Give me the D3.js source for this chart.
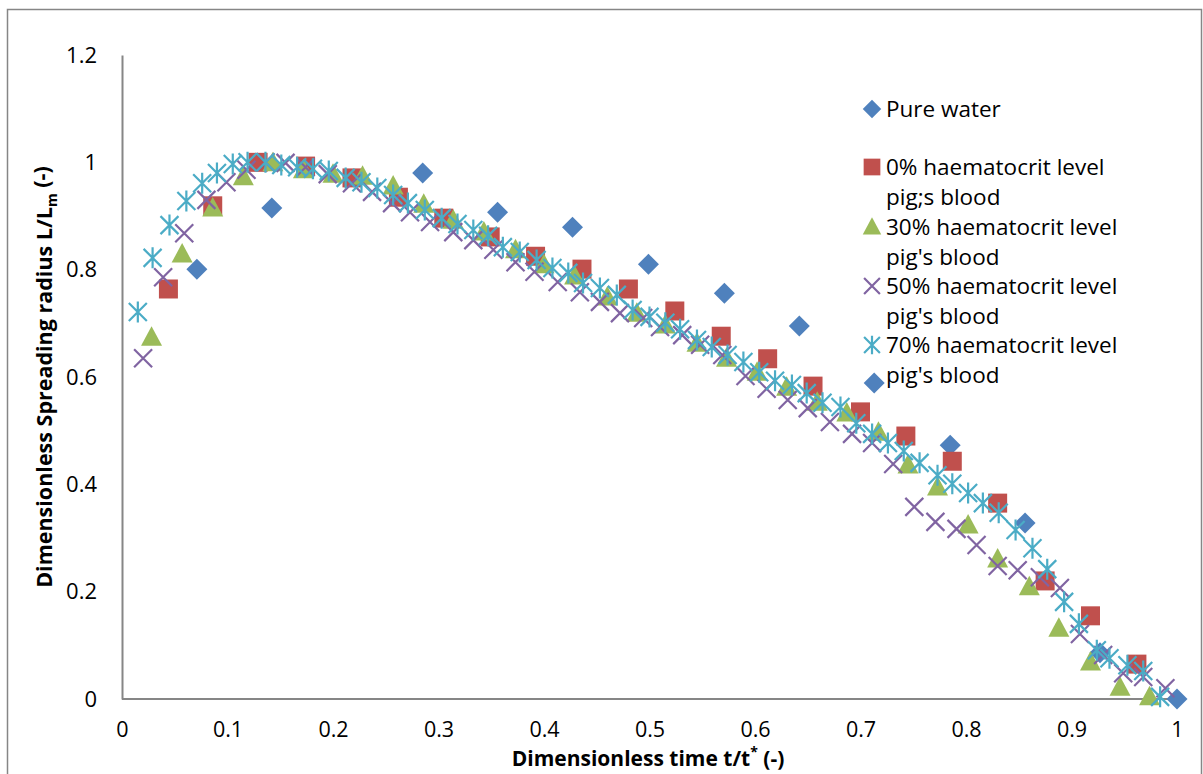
<!DOCTYPE html>
<html><head><meta charset="utf-8">
<script src="https://cdn.jsdelivr.net/npm/d3@7"></script>
<style>body{margin:0;background:#fff}svg{display:block}text{font-family:"Open Sans",sans-serif}</style>
</head><body>
<svg id="c" width="1203" height="774"></svg>
<script>
// ---- data ----
const waterX = [0.071,0.142,0.285,0.356,0.427,0.499,0.571,0.642,0.713,0.785,0.856,0.927,1.0];
const waterY = [0.801,0.915,0.980,0.907,0.879,0.810,0.756,0.695,0.589,0.473,0.328,0.086,0.0];

const h0X = [0.044,0.086,0.129,0.174,0.218,0.262,0.305,0.349,0.392,0.436,0.480,0.524,0.568,0.612,0.655,0.700,0.743,0.787,0.830,0.875,0.918,0.962];
const h0Y = [0.764,0.919,1.000,0.993,0.971,0.935,0.896,0.861,0.825,0.801,0.764,0.723,0.676,0.634,0.583,0.535,0.490,0.443,0.365,0.220,0.155,0.065];

const h30X = [0.028,0.057,0.086,0.115,0.143,0.172,0.200,0.228,0.257,0.286,0.314,0.343,0.373,0.400,0.429,0.460,0.488,0.515,0.545,0.573,0.602,0.630,0.659,0.687,0.717,0.745,0.773,0.802,0.830,0.860,0.888,0.918,0.946,0.974];
const h30Y = [0.674,0.829,0.915,0.973,0.999,0.986,0.978,0.974,0.956,0.922,0.892,0.870,0.837,0.809,0.788,0.749,0.719,0.697,0.663,0.635,0.609,0.581,0.553,0.533,0.497,0.436,0.395,0.324,0.261,0.209,0.132,0.069,0.022,0.004];

const h50X = [0.020,0.039,0.059,0.080,0.099,0.118,0.136,0.155,0.174,0.195,0.218,0.237,0.256,0.273,0.292,0.314,0.333,0.352,0.373,0.391,0.413,0.434,0.453,0.472,0.494,0.510,0.531,0.548,0.569,0.591,0.611,0.631,0.650,0.671,0.692,0.711,0.731,0.751,0.771,0.791,0.810,0.830,0.849,0.870,0.889,0.908,0.930,0.949,0.968,0.989];
const h50Y = [0.635,0.786,0.868,0.930,0.963,0.986,1.000,0.999,0.991,0.978,0.961,0.945,0.924,0.907,0.889,0.870,0.855,0.837,0.814,0.796,0.777,0.758,0.740,0.719,0.710,0.693,0.678,0.660,0.641,0.602,0.578,0.557,0.542,0.516,0.494,0.477,0.438,0.358,0.330,0.317,0.287,0.248,0.240,0.227,0.207,0.121,0.082,0.048,0.041,0.020];

const h70X = [0.015,0.029,0.045,0.061,0.076,0.090,0.105,0.119,0.136,0.151,0.166,0.181,0.196,0.212,0.227,0.242,0.257,0.271,0.287,0.303,0.318,0.333,0.347,0.361,0.377,0.393,0.408,0.423,0.437,0.453,0.469,0.484,0.500,0.515,0.529,0.545,0.559,0.574,0.589,0.604,0.619,0.635,0.649,0.664,0.681,0.696,0.711,0.726,0.741,0.756,0.773,0.787,0.802,0.816,0.831,0.847,0.863,0.877,0.893,0.907,0.924,0.936,0.953,0.968,0.984];
const h70Y = [0.721,0.822,0.883,0.928,0.961,0.980,0.997,1.000,1.000,0.995,0.991,0.988,0.984,0.971,0.963,0.952,0.939,0.924,0.911,0.896,0.885,0.874,0.863,0.842,0.833,0.818,0.803,0.794,0.775,0.766,0.753,0.725,0.712,0.701,0.689,0.669,0.656,0.641,0.628,0.609,0.593,0.585,0.570,0.552,0.544,0.514,0.494,0.477,0.462,0.440,0.417,0.401,0.384,0.365,0.347,0.315,0.281,0.242,0.181,0.140,0.091,0.076,0.063,0.052,0.004];

const xTicks = [0,0.1,0.2,0.3,0.4,0.5,0.6,0.7,0.8,0.9,1];
const yTicks = [0,0.2,0.4,0.6,0.8,1,1.2];
const xTickLabels = ["0","0.1","0.2","0.3","0.4","0.5","0.6","0.7","0.8","0.9","1"];
const yTickLabels = ["0","0.2","0.4","0.6","0.8","1","1.2"];

const seriesNames = ["Pure water","0% haematocrit level|pig;s blood","30% haematocrit level|pig's blood","50% haematocrit level|pig's blood","70% haematocrit level|pig's blood"];
const seriesColors = ["#4F81BD","#C0504D","#9BBB59","#8064A2","#4BACC6"];
const seriesShapes = ["diamond","square","triangle","cross","star"];

// ---- drawing ----
const svg = d3.select("#c");
const x = d3.scaleLinear().domain([0,1]).range([122,1177]);
const y = d3.scaleLinear().domain([0,1.2]).range([699,55]);

// outer frame
svg.append("rect").attr("x",7.5).attr("y",9.5).attr("width",1194).attr("height",780)
  .attr("fill","none").attr("stroke","#868686").attr("stroke-width",1.5);

// axes
const gx = svg.append("g").attr("transform","translate(0,699)")
  .call(d3.axisBottom(x).tickValues(xTicks).tickFormat((d,i)=>xTickLabels[i]).tickSize(0).tickPadding(23));
gx.select(".domain").attr("stroke","#868686").attr("stroke-width",2).attr("d","M122,0H1180");
gx.selectAll("text").attr("font-size",21.5).attr("fill","#000");

const gy = svg.append("g").attr("transform","translate(122,0)")
  .call(d3.axisLeft(y).tickValues(yTicks).tickFormat((d,i)=>yTickLabels[i]).tickSize(0).tickPadding(25));
gy.select(".domain").attr("stroke","#868686").attr("stroke-width",2);
gy.selectAll("text").attr("font-size",22).attr("fill","#000");

function shapePath(s, k){
  const r = k || 1;
  switch(s){
    case "diamond": return `M0,${-10.5*r}L${10.5*r},0L0,${10.5*r}L${-10.5*r},0Z`;
    case "square": return `M${-9.5*r},${-9.5*r}H${9.5*r}V${9.5*r}H${-9.5*r}Z`;
    case "triangle": return `M0,${-11*r}L${10.5*r},${8.5*r}H${-10.5*r}Z`;
    case "cross": return `M${-9*r},${-9*r}L${9*r},${9*r}M${-9*r},${9*r}L${9*r},${-9*r}`;
    case "star": return `M0,${-10.5*r}V${10.5*r}M${-9*r},${-9*r}L${9*r},${9*r}M${-9*r},${9*r}L${9*r},${-9*r}`;
  }
}
function drawMarker(g, s, color, px, py, k){
  const p = g.append("path").attr("d",shapePath(s,k)).attr("transform",`translate(${px},${py})`);
  if(s==="cross"||s==="star") p.attr("fill","none").attr("stroke",color).attr("stroke-width",2.2);
  else p.attr("fill",color);
}

const data = [[waterX,waterY],[h0X,h0Y],[h30X,h30Y],[h50X,h50Y],[h70X,h70Y]];
data.forEach(([xs,ys],k)=>{
  const g = svg.append("g");
  xs.forEach((v,i)=>drawMarker(g, seriesShapes[k], seriesColors[k], x(v), y(ys[i])));
});

// legend
const legY = [109,167,227,286,345];
const lg = svg.append("g");
seriesNames.forEach((name,k)=>{
  drawMarker(lg, seriesShapes[k], seriesColors[k], 872, legY[k], 0.88);
  name.split("|").forEach((line,j)=>{
    lg.append("text").attr("x",886).attr("y",legY[k]+j*30).attr("dy","0.35em")
      .attr("font-size",22.5).attr("fill","#000").text(line);
  });
});

// axis titles
const xt = svg.append("text").attr("x",648).attr("y",759).attr("dy","0.35em").attr("text-anchor","middle")
  .attr("font-size",21).attr("font-weight","bold");
xt.append("tspan").text("Dimensionless time t/t");
xt.append("tspan").attr("font-size",14).attr("dy","-0.7em").text("*");
xt.append("tspan").attr("dy","0.45em").text(" (-)");

const yt = svg.append("text").attr("transform","translate(44,377) rotate(-90)").attr("dy","0.35em")
  .attr("text-anchor","middle").attr("font-size",21.5).attr("font-weight","bold");
yt.append("tspan").text("Dimensionless Spreading radius L/L");
yt.append("tspan").attr("font-size",14).attr("dy","0.4em").text("m");
yt.append("tspan").attr("dy","-0.4em").text(" (-)");
</script>
</body></html>
